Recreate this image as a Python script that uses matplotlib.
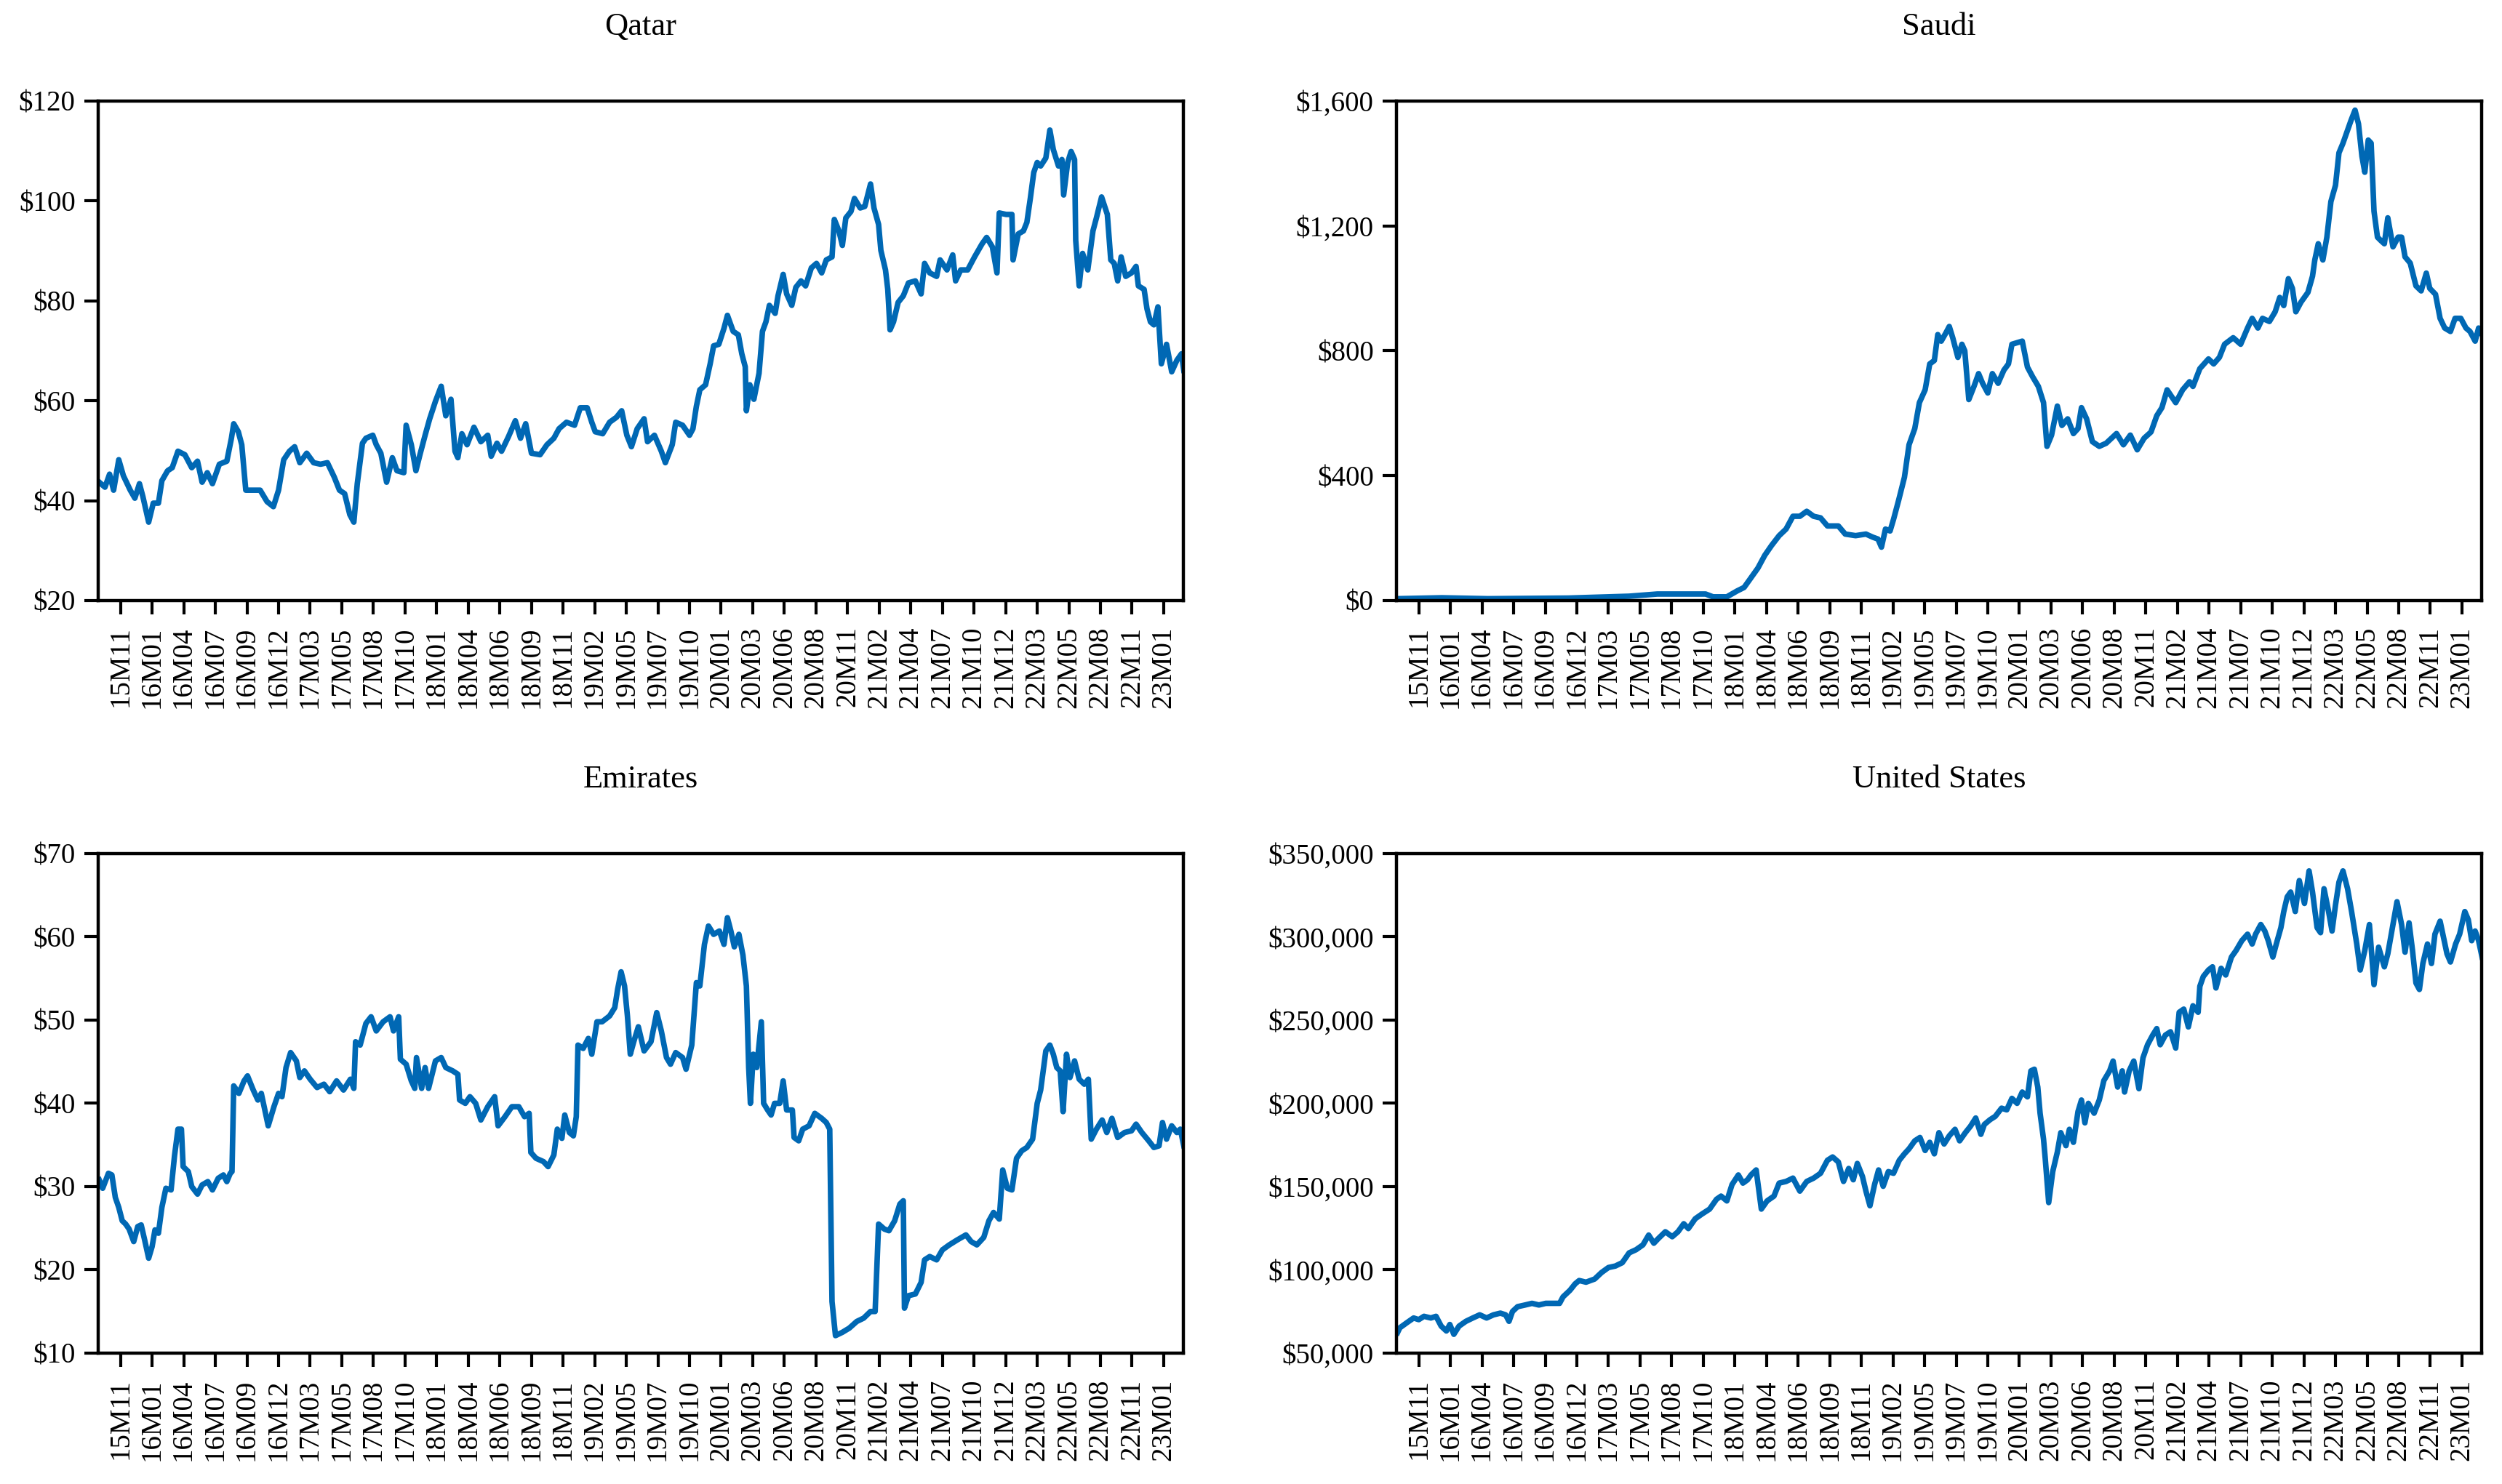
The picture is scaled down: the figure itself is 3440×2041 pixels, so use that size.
import matplotlib

matplotlib.use("Agg")
import matplotlib.pyplot as plt
import numpy as np
from matplotlib.ticker import FuncFormatter, MultipleLocator

plt.rcParams["font.family"] = ["Liberation Serif", "DejaVu Serif"]

# x axis is a trading-day index; one date label every TICK_STEP observations
TICK_STEP = 55
tick_labels = [
    "15M11", "16M01", "16M04", "16M07", "16M09", "16M12", "17M03", "17M05", "17M08",
    "17M10", "18M01", "18M04", "18M06", "18M09", "18M11", "19M02", "19M05", "19M07",
    "19M10", "20M01", "20M03", "20M06", "20M08", "20M11", "21M02", "21M04", "21M07",
    "21M10", "21M12", "22M03", "22M05", "22M08", "22M11", "23M01",
]

qatar_obs = [
    -37, -27, -19, -12, -3, 5, 17, 25, 33, 39, 49, 57, 66, 72, 82, 90, 100, 112, 124, 134,
    142, 151, 160, 172, 185, 193, 197, 205, 211, 218, 231, 243, 255, 266, 275, 284, 294, 303,
    312, 324, 336, 348, 360, 372, 381, 390, 399, 406, 412, 421, 427, 439, 445, 453, 463, 473,
    481, 493, 497, 506, 514, 521, 530, 538, 548, 558, 566, 575, 582, 587, 594, 603, 615, 627,
    639, 645, 655, 663, 675, 687, 696, 705, 715, 730, 742, 754, 763, 776, 790, 800, 812, 820,
    826, 839, 851, 863, 872, 881, 889, 899, 911, 917, 929, 941, 948, 960, 966, 978, 990, 996,
    1002, 1008, 1018, 1026, 1032, 1041, 1050, 1056, 1066, 1075, 1081, 1087, 1089, 1095, 1102,
    1111, 1117, 1123, 1129, 1139, 1144, 1153, 1159, 1168, 1175, 1184, 1192, 1202, 1211, 1220,
    1228, 1238, 1242, 1250, 1256, 1262, 1271, 1277, 1287, 1295, 1305, 1311, 1319, 1323, 1331,
    1335, 1339, 1345, 1353, 1362, 1371, 1383, 1393, 1399, 1408, 1420, 1426, 1438, 1448, 1453,
    1462, 1474, 1486, 1499, 1507, 1517, 1525, 1529, 1541, 1551, 1553, 1562, 1571, 1577, 1583,
    1589, 1595, 1601, 1610, 1617, 1623, 1632, 1638, 1641, 1648, 1654, 1660, 1662, 1668, 1674,
    1683, 1692, 1698, 1707, 1717, 1723, 1729, 1735, 1741, 1749, 1759, 1767, 1771, 1781, 1786,
    1792, 1798, 1805, 1811, 1820, 1829, 1838, 1846, 1850,
]
qatar_px = [
    43.7, 42.7, 45.3, 42.1, 48.2, 45.0, 42.1, 40.5, 43.4, 40.8, 35.7, 39.5, 39.5, 44.0, 46.0,
    46.6, 49.9, 49.2, 46.6, 47.9, 43.7, 45.6, 43.4, 47.3, 47.9, 52.5, 55.4, 53.8, 51.2, 42.1,
    42.1, 42.1, 39.8, 38.8, 42.1, 48.2, 49.9, 50.8, 47.6, 49.5, 47.6, 47.3, 47.6, 44.7, 42.1,
    41.4, 37.2, 35.7, 43.4, 51.5, 52.5, 53.1, 51.2, 49.5, 43.7, 48.6, 46.0, 45.6, 55.1, 51.2,
    46.0, 49.2, 53.1, 56.4, 59.9, 62.9, 57.0, 60.3, 49.9, 48.6, 53.4, 51.2, 54.7, 51.8, 53.1,
    48.9, 51.5, 49.9, 52.8, 56.0, 52.5, 55.4, 49.5, 49.2, 51.2, 52.5, 54.4, 55.7, 55.1, 58.6,
    58.6, 55.7, 53.8, 53.4, 55.7, 56.7, 58.0, 53.1, 50.8, 54.4, 56.4, 51.8, 53.1, 49.9, 47.6,
    51.2, 55.7, 55.1, 53.1, 54.4, 58.9, 62.2, 63.2, 67.4, 71.0, 71.3, 74.5, 77.1, 73.9, 73.2,
    69.4, 66.8, 58.0, 63.2, 60.3, 65.5, 73.9, 75.8, 79.1, 77.5, 81.0, 85.3, 81.4, 79.1, 82.7,
    84.0, 83.0, 86.6, 87.5, 85.6, 88.2, 88.8, 96.3, 94.0, 91.1, 96.6, 97.9, 100.5, 98.6, 98.9,
    103.4, 98.6, 95.3, 90.1, 86.2, 82.3, 74.2, 75.8, 79.7, 81.0, 83.6, 84.0, 81.4, 87.5, 85.6,
    84.9, 88.2, 86.2, 89.2, 84.0, 86.2, 86.2, 88.8, 91.4, 92.7, 90.8, 85.6, 97.6, 97.3, 97.3,
    88.2, 93.4, 94.0, 95.7, 100.5, 105.7, 107.7, 107.0, 108.6, 114.2, 110.3, 107.0, 108.3,
    101.2, 107.7, 109.9, 108.3, 92.1, 83.0, 89.5, 86.2, 94.0, 96.6, 100.8, 97.3, 88.2, 87.5,
    84.0, 88.8, 84.9, 85.6, 86.9, 83.0, 82.3, 78.4, 75.8, 75.2, 78.8, 67.4, 71.3, 65.8, 68.1,
    69.4, 66.1,
]

saudi_obs = [
    -37, 40, 120, 260, 366, 415, 499, 512, 536, 554, 566, 578, 590, 602, 614, 627, 639, 651,
    663, 675, 687, 699, 711, 730, 742, 760, 778, 790, 799, 805, 812, 820, 826, 835, 845, 853,
    863, 871, 881, 889, 897, 903, 909, 917, 923, 929, 938, 945, 950, 957, 966, 974, 981, 990,
    998, 1008, 1018, 1026, 1032, 1041, 1050, 1059, 1068, 1078, 1087, 1093, 1101, 1111, 1119,
    1129, 1139, 1147, 1153, 1162, 1172, 1184, 1196, 1214, 1226, 1238, 1250, 1262, 1274, 1284,
    1293, 1302, 1317, 1329, 1341, 1347, 1359, 1374, 1383, 1393, 1402, 1417, 1430, 1442, 1450,
    1460, 1468, 1480, 1490, 1498, 1505, 1513, 1520, 1526, 1535, 1547, 1555, 1559, 1565, 1573,
    1580, 1587, 1595, 1601, 1608, 1614, 1622, 1629, 1635, 1641, 1646, 1652, 1657, 1662, 1668,
    1674, 1680, 1686, 1695, 1704, 1710, 1716, 1725, 1735, 1744, 1753, 1759, 1769, 1777, 1785,
    1795, 1803, 1813, 1822, 1829, 1838, 1844, 1850,
]
saudi_px = [
    6, 9, 6, 8, 14, 21, 21, 12, 12, 31, 42, 73, 104, 145, 177, 208, 229, 270, 270, 286, 270,
    265, 239, 239, 213, 208, 213, 203, 197, 171, 229, 223, 260, 322, 395, 499, 551, 634, 675,
    758, 769, 852, 831, 857, 878, 842, 779, 821, 800, 644, 686, 727, 696, 665, 727, 696, 738,
    758, 821, 826, 831, 748, 717, 686, 634, 494, 530, 623, 561, 582, 535, 551, 618, 582, 509,
    494, 504, 535, 499, 530, 483, 520, 540, 592, 618, 675, 634, 675, 701, 686, 743, 774, 758,
    779, 821, 842, 821, 873, 904, 873, 904, 894, 925, 971, 945, 1031, 1000, 925, 956, 987,
    1039, 1091, 1143, 1091, 1164, 1278, 1330, 1434, 1465, 1496, 1538, 1571, 1527, 1423, 1372,
    1475, 1465, 1247, 1164, 1153, 1143, 1226, 1133, 1164, 1164, 1101, 1081, 1008, 992, 1049,
    1000, 981, 904, 873, 862, 904, 904, 873, 862, 831, 873, 852,
]

emirates_obs = [
    -37, -31, -21, -15, -9, -3, 3, 9, 15, 23, 30, 36, 42, 49, 55, 60, 66, 72, 79, 88, 94, 100,
    106, 109, 118, 124, 134, 142, 152, 160, 170, 179, 185, 191, 194, 197, 206, 215, 221, 231,
    239, 245, 257, 267, 275, 281, 288, 296, 306, 312, 320, 330, 342, 354, 364, 376, 388, 400,
    406, 409, 417, 427, 436, 445, 457, 469, 475, 484, 487, 497, 506, 512, 515, 524, 530, 536,
    548, 558, 566, 578, 587, 590, 600, 608, 618, 627, 639, 651, 657, 669, 681, 693, 703, 711,
    714, 723, 736, 744, 754, 760, 768, 773, 781, 788, 793, 796, 805, 814, 820, 829, 838, 851,
    860, 865, 871, 877, 882, 887, 893, 901, 911, 923, 933, 941, 950, 957, 966, 978, 984, 994,
    1002, 1008, 1016, 1023, 1032, 1042, 1050, 1056, 1062, 1068, 1076, 1083, 1089, 1093, 1096,
    1101, 1107, 1115, 1119, 1126, 1132, 1138, 1147, 1153, 1159, 1169, 1172, 1180, 1187, 1198,
    1208, 1220, 1228, 1234, 1238, 1244, 1256, 1268, 1281, 1293, 1305, 1313, 1319, 1329, 1337,
    1347, 1356, 1362, 1364, 1371, 1383, 1393, 1399, 1408, 1420, 1430, 1442, 1456, 1471, 1480,
    1490, 1502, 1511, 1519, 1529, 1535, 1543, 1551, 1559, 1568, 1577, 1587, 1595, 1601, 1610,
    1617, 1623, 1629, 1635, 1640, 1646, 1652, 1660, 1668, 1677, 1684, 1689, 1698, 1708, 1716,
    1725, 1735, 1747, 1759, 1767, 1777, 1789, 1798, 1807, 1813, 1820, 1829, 1838, 1844, 1850,
]
emirates_px = [
    30.8, 29.8, 31.6, 31.4, 28.7, 27.5, 25.9, 25.5, 24.9, 23.4, 25.2, 25.4, 23.6, 21.4, 22.8,
    24.8, 24.4, 27.5, 29.8, 29.6, 33.7, 36.9, 36.9, 32.4, 31.8, 30.0, 29.1, 30.2, 30.6, 29.6,
    31.0, 31.4, 30.6, 31.6, 31.8, 42.1, 41.2, 42.7, 43.3, 41.6, 40.4, 41.2, 37.3, 39.6, 41.2,
    40.8, 44.3, 46.1, 45.1, 43.1, 43.9, 42.9, 41.9, 42.3, 41.4, 42.7, 41.6, 42.9, 41.8, 47.4,
    47.0, 49.6, 50.4, 48.7, 49.8, 50.4, 48.7, 50.4, 45.3, 44.7, 42.7, 41.8, 45.5, 41.8, 44.3,
    41.8, 45.1, 45.5, 44.3, 43.9, 43.5, 40.4, 40.0, 40.8, 40.0, 38.0, 39.6, 40.8, 37.3, 38.4,
    39.6, 39.6, 38.4, 38.8, 34.1, 33.4, 33.0, 32.4, 33.8, 36.9, 35.8, 38.6, 36.5, 36.1, 38.4,
    47.0, 46.6, 47.8, 45.9, 49.8, 49.8, 50.5, 51.5, 53.7, 55.8, 54.1, 50.5, 45.9, 47.4, 49.2,
    46.3, 47.4, 50.9, 48.7, 45.5, 44.7, 46.1, 45.5, 44.1, 47.0, 54.5, 54.1, 59.1, 61.3, 60.3,
    60.7, 59.1, 62.3, 60.7, 58.8, 60.3, 57.8, 54.1, 44.3, 40.0, 45.9, 44.3, 49.8, 40.0, 39.2,
    38.6, 40.0, 40.0, 42.7, 39.2, 39.2, 35.9, 35.5, 36.9, 37.3, 38.8, 38.2, 37.7, 36.9, 16.2,
    12.1, 12.5, 13.0, 13.8, 14.2, 15.0, 15.0, 25.5, 24.9, 24.7, 25.9, 27.9, 28.3, 15.4, 16.9,
    17.1, 18.5, 21.2, 21.6, 21.2, 22.4, 23.0, 23.6, 24.2, 23.4, 23.0, 23.9, 25.9, 26.9, 26.1,
    32.0, 29.8, 29.6, 33.4, 34.3, 34.7, 35.7, 40.0, 41.6, 46.3, 47.0, 45.9, 44.3, 43.9, 39.0,
    45.9, 43.1, 45.1, 42.9, 42.3, 42.9, 35.7, 36.9, 38.0, 36.5, 38.2, 35.9, 36.5, 36.7, 37.5,
    36.5, 35.5, 34.7, 34.9, 37.7, 35.7, 37.3, 36.5, 36.9, 34.9,
]

us_obs = [
    -37, -33, -21, -9, 0, 9, 21, 30, 39, 48, 54, 61, 70, 82, 94, 106, 118, 130, 142, 151, 157,
    163, 172, 185, 197, 209, 221, 233, 245, 251, 263, 272, 279, 291, 306, 318, 330, 342, 354,
    366, 378, 390, 400, 409, 417, 429, 441, 451, 461, 469, 481, 493, 506, 518, 526, 536, 545,
    556, 564, 572, 578, 587, 596, 606, 618, 627, 639, 651, 663, 675, 687, 699, 711, 720, 730,
    739, 748, 756, 763, 772, 778, 785, 793, 800, 808, 817, 826, 836, 845, 853, 863, 872, 881,
    889, 897, 905, 914, 923, 933, 941, 951, 960, 969, 978, 984, 994, 1003, 1014, 1023, 1032,
    1041, 1050, 1059, 1065, 1071, 1077, 1081, 1087, 1090, 1096, 1103, 1111, 1117, 1126, 1132,
    1139, 1147, 1153, 1159, 1165, 1175, 1184, 1192, 1202, 1208, 1216, 1224, 1228, 1236, 1244,
    1253, 1260, 1268, 1277, 1284, 1290, 1299, 1308, 1317, 1323, 1331, 1339, 1347, 1356, 1359,
    1365, 1374, 1381, 1387, 1396, 1404, 1414, 1422, 1432, 1442, 1450, 1456, 1465, 1472, 1478,
    1486, 1492, 1500, 1505, 1511, 1517, 1525, 1532, 1541, 1549, 1555, 1563, 1569, 1575, 1583,
    1589, 1595, 1601, 1608, 1616, 1623, 1632, 1638, 1646, 1654, 1662, 1670, 1680, 1686, 1695,
    1702, 1710, 1716, 1723, 1729, 1735, 1741, 1747, 1755, 1762, 1768, 1777, 1783, 1789, 1795,
    1804, 1811, 1820, 1826, 1832, 1838, 1844, 1850,
]
us_px_thousands = [
    62.3, 65.2, 68.2, 71.1, 70.1, 72.1, 71.1, 72.1, 66.2, 63.3, 67.2, 61.3, 66.2, 69.1, 71.1,
    73.0, 71.1, 73.0, 74.0, 73.0, 69.1, 75.0, 77.9, 78.9, 79.9, 78.9, 79.9, 79.9, 79.9, 83.8,
    87.7, 91.6, 93.6, 92.6, 94.5, 98.4, 101.4, 102.3, 104.3, 110.2, 112.1, 115.0, 120.9, 116.0,
    118.9, 122.9, 119.9, 122.9, 127.7, 124.8, 130.7, 133.6, 136.5, 142.4, 144.3, 141.4, 151.2,
    157.0, 152.1, 154.1, 157.0, 160.0, 136.5, 141.4, 144.3, 152.1, 153.1, 155.1, 147.3, 153.1,
    155.1, 158.0, 165.8, 167.8, 164.8, 153.1, 160.9, 154.1, 163.9, 156.0, 147.3, 138.5, 151.2,
    160.0, 150.2, 159.0, 158.0, 165.8, 169.7, 172.7, 177.5, 179.5, 171.7, 176.6, 169.7, 182.4,
    175.6, 180.5, 184.4, 177.5, 182.4, 186.3, 191.2, 181.4, 187.3, 190.2, 192.2, 197.1, 196.1,
    203.0, 200.0, 206.8, 203.9, 219.5, 220.5, 209.8, 194.1, 178.5, 166.8, 140.4, 159.0, 170.7,
    182.4, 174.6, 184.4, 176.6, 195.1, 202.0, 188.3, 200.0, 194.1, 202.0, 213.7, 219.5, 225.4,
    209.8, 219.5, 206.8, 219.5, 225.4, 208.8, 227.3, 235.2, 241.0, 244.9, 235.2, 241.0, 243.0,
    233.2, 254.7, 256.6, 245.9, 258.6, 254.7, 270.3, 276.2, 280.1, 282.0, 269.3, 281.1, 277.1,
    287.9, 291.8, 297.7, 301.6, 295.7, 301.6, 307.4, 303.5, 297.7, 287.9, 295.7, 305.5, 315.2,
    324.0, 326.9, 315.2, 333.8, 320.1, 339.6, 326.9, 305.5, 302.5, 328.9, 315.2, 303.5, 319.1,
    332.8, 339.6, 328.9, 315.2, 295.7, 280.1, 291.8, 307.4, 271.3, 293.8, 282.0, 289.8, 307.4,
    321.1, 307.4, 290.8, 308.4, 291.8, 272.3, 268.4, 284.0, 295.7, 284.0, 301.6, 309.4, 299.6,
    289.8, 284.9, 295.7, 301.6, 315.2, 310.3, 297.7, 303.5, 297.7, 287.9,
]

LINE_COLOR = "#0068B4"
X_RANGE = (-39, 1849)

# name, x, y, (ymin, ymax), y step, axes rect in figure fractions
panels = [
    ("Qatar", qatar_obs, qatar_px, (20, 120), 20, [0.0392, 0.5953, 0.4337, 0.3366]),
    ("Saudi", saudi_obs, saudi_px, (0, 1600), 400, [0.5581, 0.5953, 0.4337, 0.3366]),
    ("Emirates", emirates_obs, emirates_px, (10, 70), 10, [0.0392, 0.0882, 0.4337, 0.3366]),
    ("United States", us_obs, np.array(us_px_thousands) * 1000, (50000, 350000), 50000,
     [0.5581, 0.0882, 0.4337, 0.3366]),
]

fig = plt.figure(figsize=(34.4, 20.41), dpi=100)
dollars = FuncFormatter(lambda v, _: f"${v:,.0f}")

for name, xs, ys, ylim, ystep, rect in panels:
    ax = fig.add_axes(rect)
    ax.plot(xs, ys, color=LINE_COLOR, lw=5.5, solid_joinstyle="round")
    ax.set_xlim(*X_RANGE)
    ax.set_ylim(*ylim)
    ax.yaxis.set_major_locator(MultipleLocator(ystep))
    ax.yaxis.set_major_formatter(dollars)
    ax.set_xticks(np.arange(len(tick_labels)) * TICK_STEP)
    ax.set_xticklabels(tick_labels, rotation=90)
    ax.tick_params(direction="out", length=13.5, width=3, labelsize=28, pad=9)
    ax.tick_params(axis="x", pad=12)
    for side in ax.spines.values():
        side.set_linewidth(3.2)
    ax.text(0.5, 1.148, name, transform=ax.transAxes, ha="center", va="center", fontsize=32)

fig.savefig("out.png", dpi=100)
